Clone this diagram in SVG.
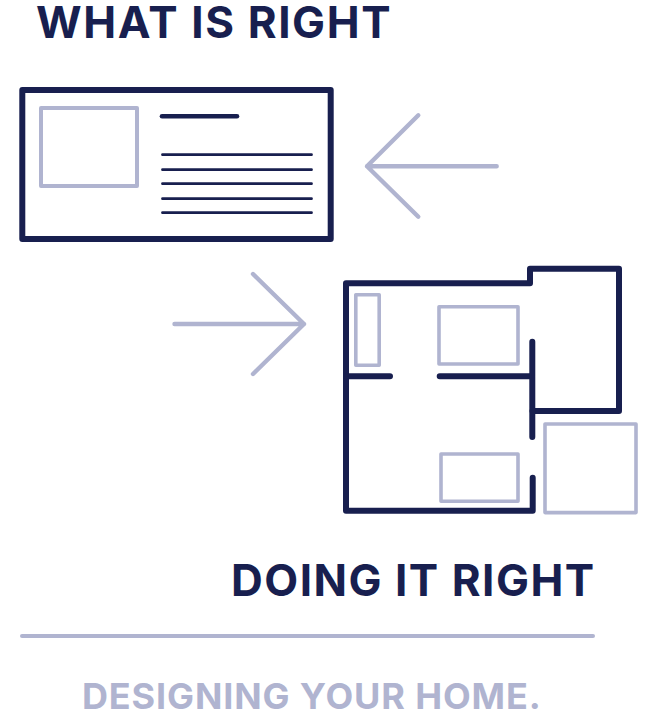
<svg xmlns="http://www.w3.org/2000/svg" width="652" height="719" viewBox="0 0 652 719">
<style>
.d{fill:none;stroke:#181f4f;stroke-linecap:round;stroke-linejoin:round}
.l{fill:none;stroke:#b0b4d0;stroke-linecap:round;stroke-linejoin:round}
.t{font-family:"Inter","Liberation Sans",sans-serif;font-weight:700}
</style>
<rect width="652" height="719" fill="#ffffff"/>
<g id="title-what"><text class="t" x="36" y="37.7" font-size="44" letter-spacing="1.6" fill="#181f4f">WHAT IS RIGHT</text></g>
<g id="card">
<rect class="d" x="22.3" y="90" width="308.4" height="149" stroke-width="6"/>
<rect class="l" x="41" y="108" width="96" height="78" stroke-width="4"/>
<path class="d" stroke-width="4.6" d="M162 116.3H237"/>
<path class="d" stroke-width="2.8" d="M162.5 154.7H311.5M162.5 169.7H311.5M162.5 183.7H311.5M162.5 198.7H311.5M162.5 212.7H311.5"/>
</g>
<g id="plan">
<path class="d" stroke-width="6" d="M532.5 411H619V268.7H530V283.3H346V510.7H532.7V477.7"/>
<path class="d" stroke-width="6" d="M532.3 341.7V437M346 376.3H390M439.7 376.3H532.3"/>
<rect class="l" x="355.8" y="294.8" width="23.4" height="70.4" stroke-width="3.6"/>
<rect class="l" x="439" y="306.7" width="79" height="57.3" stroke-width="3.6"/>
<rect class="l" x="441" y="454" width="77" height="47.3" stroke-width="3.6"/>
<rect class="l" x="545" y="424" width="91" height="88.6" stroke-width="3.6"/>
</g>
<g id="connectors">
<path class="l" stroke-width="4.4" d="M496.7 166.3H367M418.3 115.3L367 166.3L418.3 216.7"/>
<path class="l" stroke-width="4.4" d="M174.5 324H304M253 274L304 324L253 374"/>
</g>
<g id="title-doing"><text class="t" x="231" y="596" font-size="44" letter-spacing="1.5" fill="#181f4f">DOING IT RIGHT</text></g>
<path id="divider" class="l" stroke-width="4" d="M22 636H593"/>
<g id="caption"><text class="t" x="82" y="709" font-size="36" letter-spacing="0.87" fill="#b0b4d0">DESIGNING YOUR HOME.</text></g>
</svg>
